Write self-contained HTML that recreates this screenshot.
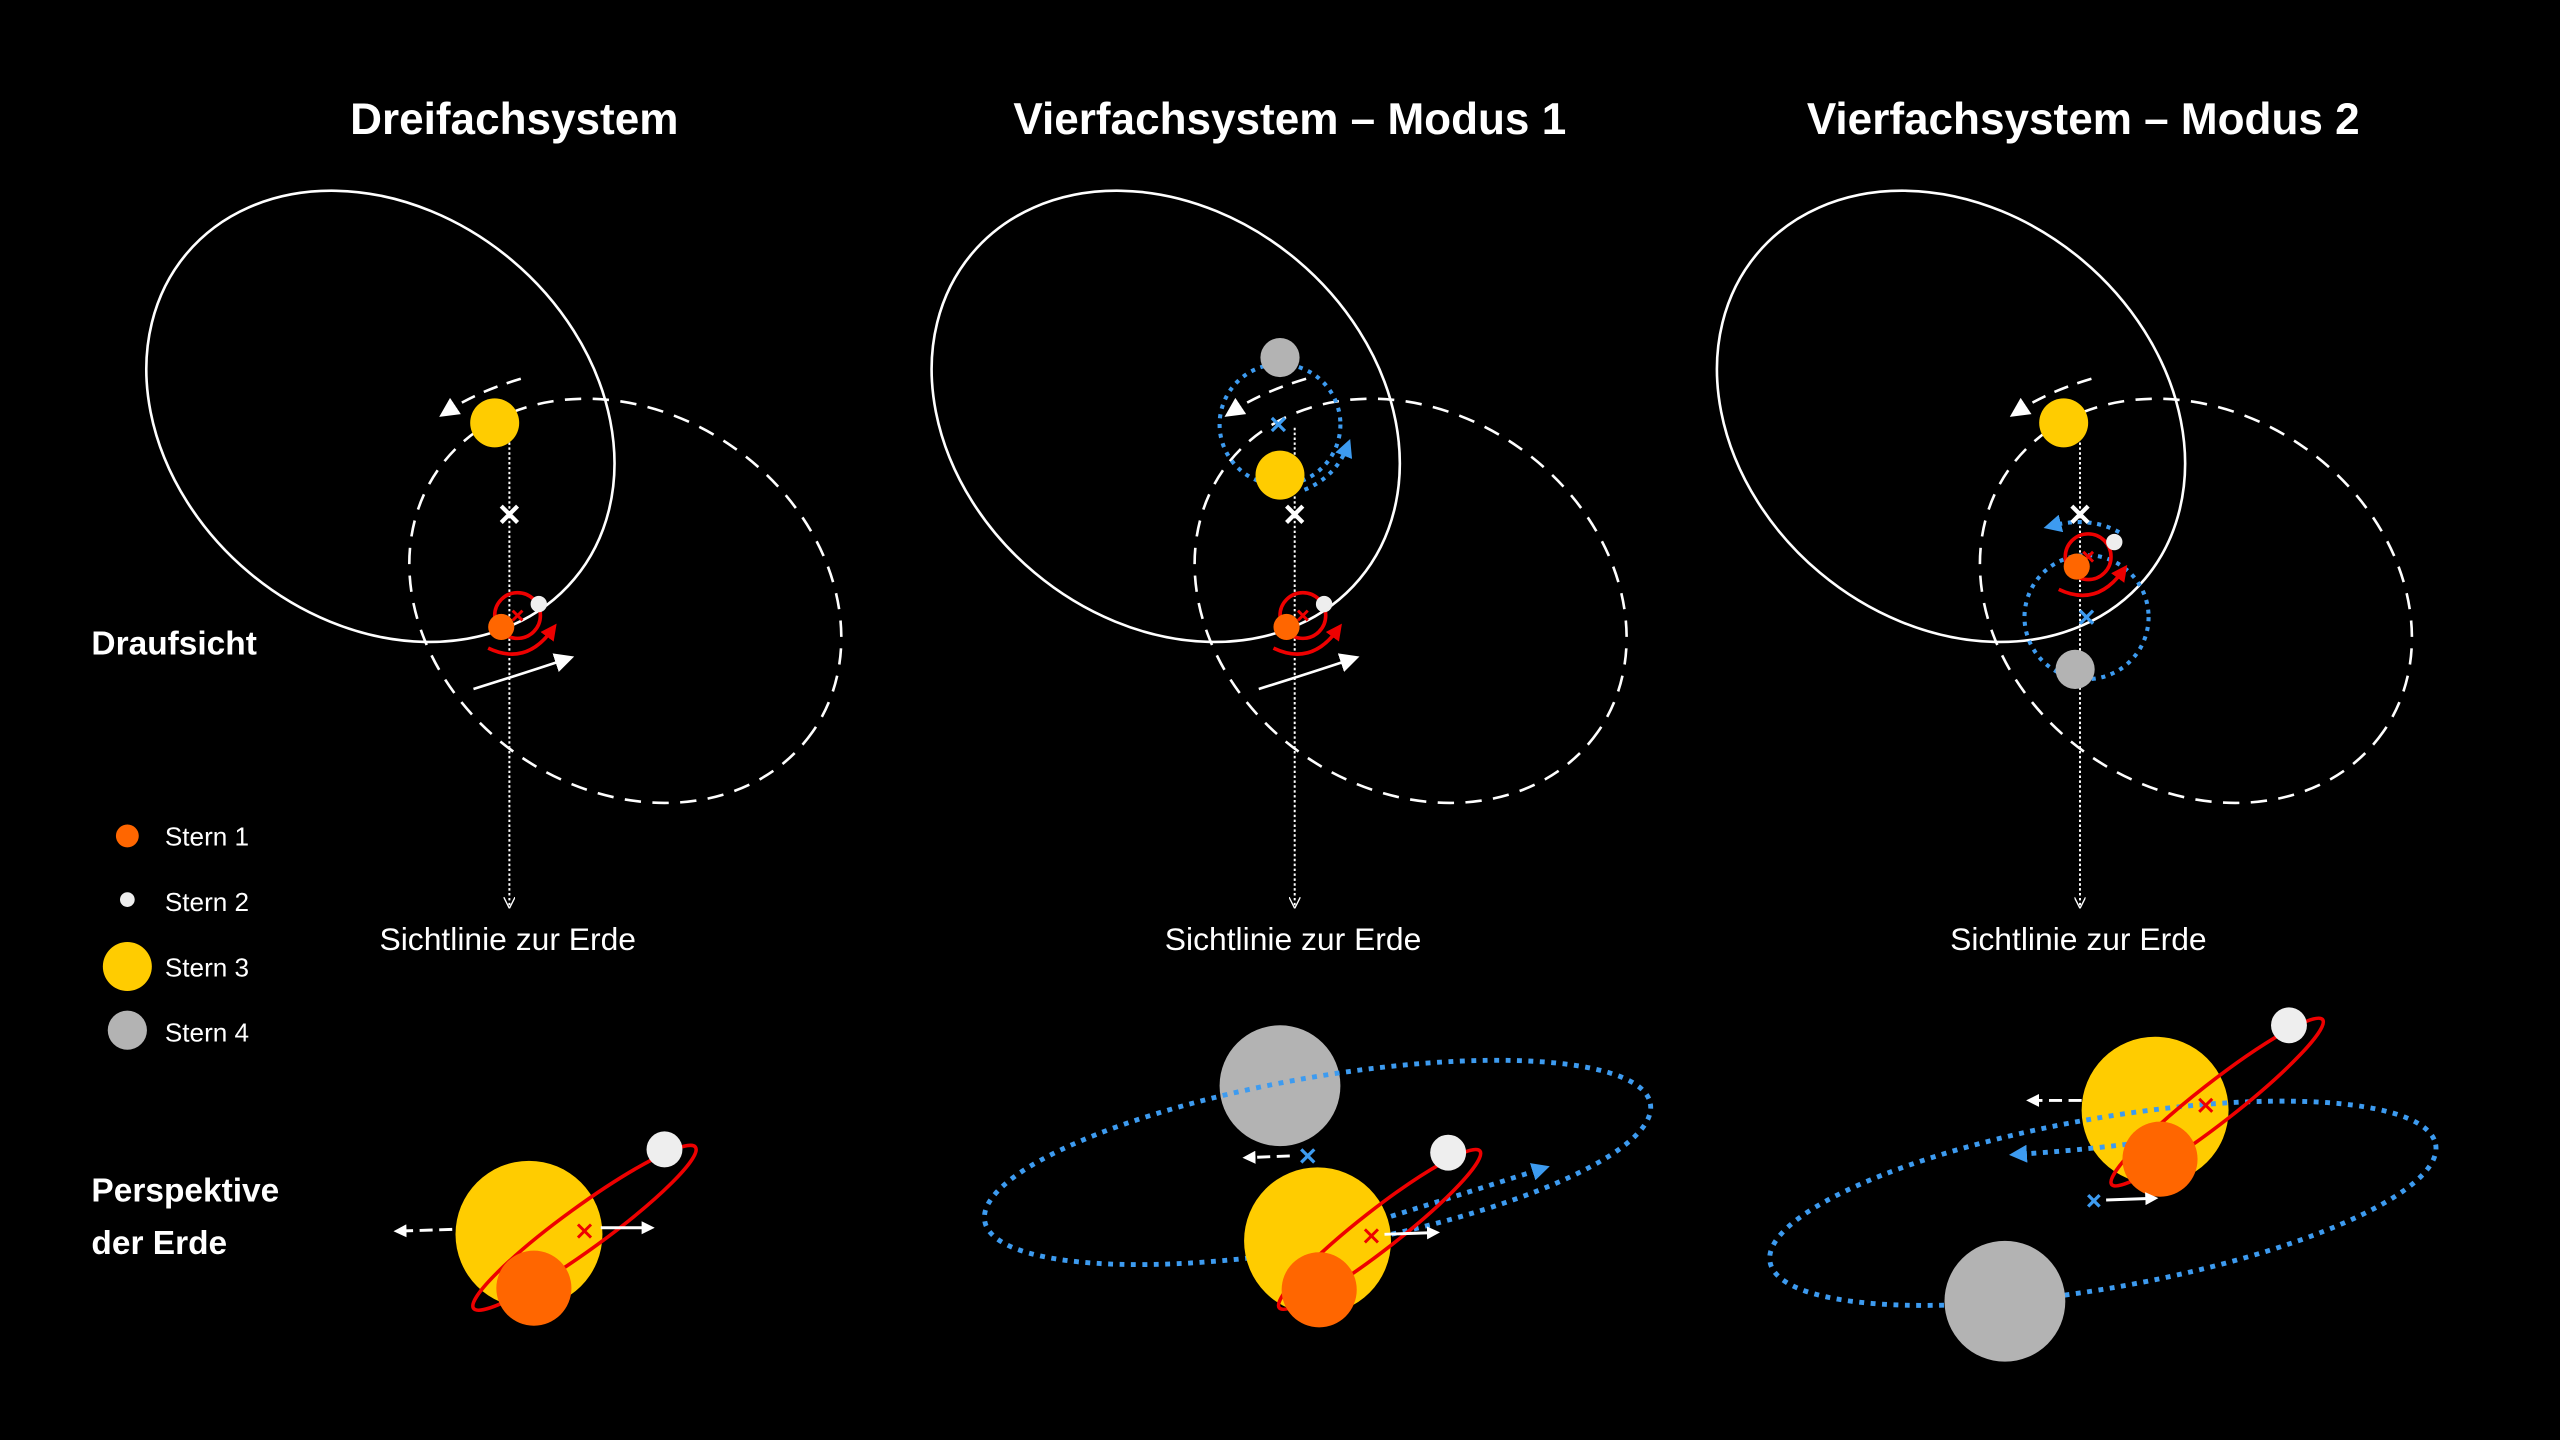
<!DOCTYPE html>
<html><head><meta charset="utf-8"><style>
html,body{margin:0;padding:0;background:#000;width:2560px;height:1440px;overflow:hidden}
svg{display:block}
text{font-family:"Liberation Sans",sans-serif;fill:#fff}
</style></head><body>
<svg width="2560" height="1440" viewBox="0 0 1568 882" xmlns="http://www.w3.org/2000/svg">
<defs>
<marker id="aw" viewBox="0 0 10 10" refX="5" refY="5" markerWidth="8" markerHeight="8" orient="auto" markerUnits="userSpaceOnUse"><path d="M0,0L10,5L0,10z" fill="#fff"/></marker>
<marker id="awb" viewBox="0 0 10 10" refX="5" refY="5" markerWidth="12" markerHeight="12" orient="auto" markerUnits="userSpaceOnUse"><path d="M0,0L10,5L0,10z" fill="#fff"/></marker>
<marker id="ar" viewBox="0 0 10 10" refX="5" refY="5" markerWidth="10" markerHeight="10" orient="auto" markerUnits="userSpaceOnUse"><path d="M0,0L10,5L0,10z" fill="#e00"/></marker>
<marker id="ab" viewBox="0 0 10 10" refX="5" refY="5" markerWidth="11" markerHeight="11" orient="auto" markerUnits="userSpaceOnUse"><path d="M0,0L10,5L0,10z" fill="#3d9bf0"/></marker>
<marker id="av" viewBox="0 0 10 10" refX="8" refY="5" markerWidth="7" markerHeight="7" orient="auto" markerUnits="userSpaceOnUse"><path d="M0,0L10,5L0,10" fill="none" stroke="#fff" stroke-width="1.2"/></marker>
<g id="top">
 <ellipse cx="233" cy="255" rx="155" ry="125" transform="rotate(40 233 255)" fill="none" stroke="#fff" stroke-width="1.6"/>
 <ellipse cx="383" cy="368" rx="140" ry="115" transform="rotate(35 383 368)" fill="none" stroke="#fff" stroke-width="1.6" stroke-dasharray="10,7"/>
 <line x1="312" y1="262" x2="312" y2="555" stroke="#fff" stroke-width="1.2" stroke-dasharray="1.5,1.5" marker-end="url(#av)"/>
 <path d="M319,232 Q292,240 274,252" fill="none" stroke="#fff" stroke-width="1.6" stroke-dasharray="9,6" marker-end="url(#awb)"/>
 <text x="311" y="582" font-size="19.5" text-anchor="middle">Sichtlinie zur Erde</text>
</g>
<path id="lowarr" d="M290,422 Q322,412 346,404" fill="none" stroke="#fff" stroke-width="1.6" marker-end="url(#awb)"/>
<g id="wx"><path d="M-5,-5L5,5M5,-5L-5,5" stroke="#fff" stroke-width="2.6"/></g>
<g id="bin">
 <circle cx="317" cy="377" r="14" fill="none" stroke="#e00" stroke-width="2.2"/>
 <path d="M299,397 Q322,408 338,386" fill="none" stroke="#e00" stroke-width="2.2" marker-end="url(#ar)"/>
 <path d="M314,374l6,6m0,-6l-6,6" stroke="#e00" stroke-width="1.8"/>
</g>
</defs>

<text x="315" y="82" font-size="27" font-weight="bold" text-anchor="middle">Dreifachsystem</text>
<text x="790" y="82" font-size="27" font-weight="bold" text-anchor="middle">Vierfachsystem – Modus 1</text>
<text x="1276" y="82" font-size="27" font-weight="bold" text-anchor="middle">Vierfachsystem – Modus 2</text>
<text x="56" y="401" font-size="20.5" font-weight="bold">Draufsicht</text>
<text x="56" y="736" font-size="20.5" font-weight="bold">Perspektive</text>
<text x="56" y="768" font-size="20.5" font-weight="bold">der Erde</text>

<circle cx="78" cy="512" r="7" fill="#f60"/><text x="101" y="518" font-size="16">Stern 1</text>
<circle cx="78" cy="551" r="4.5" fill="#eee"/><text x="101" y="558" font-size="16">Stern 2</text>
<circle cx="78" cy="592" r="15" fill="#fc0"/><text x="101" y="598" font-size="16">Stern 3</text>
<circle cx="78" cy="631" r="12" fill="#b3b3b3"/><text x="101" y="638" font-size="16">Stern 4</text>

<!-- panel 1 top -->
<use href="#top"/><use href="#lowarr"/>
<circle cx="303" cy="259" r="15" fill="#fc0"/>
<use href="#wx" x="312" y="315"/>
<use href="#bin"/>
<circle cx="307" cy="384" r="8" fill="#f60"/>
<circle cx="330" cy="370" r="5" fill="#eee"/>

<!-- panel 2 top -->
<g transform="translate(481,0)"><use href="#top"/><use href="#lowarr"/><use href="#bin"/></g>
<circle cx="784" cy="260" r="37" fill="none" stroke="#3d9bf0" stroke-width="2.5" stroke-dasharray="2.5,3.5"/>
<circle cx="784" cy="219" r="12" fill="#b3b3b3"/>
<circle cx="784" cy="291" r="15" fill="#fc0"/>
<path d="M799,300 Q818,292 825,274" fill="none" stroke="#3d9bf0" stroke-width="2.5" stroke-dasharray="2.5,3.5" marker-end="url(#ab)"/>
<path d="M779,256l8,8m0,-8l-8,8" stroke="#3d9bf0" stroke-width="2"/>
<use href="#wx" x="793" y="315"/>
<circle cx="788" cy="384" r="8" fill="#f60"/>
<circle cx="811" cy="370" r="5" fill="#eee"/>

<!-- panel 3 top -->
<g transform="translate(962,0)"><use href="#top"/></g>
<circle cx="1264" cy="259" r="15" fill="#fc0"/>
<circle cx="1278" cy="378" r="38" fill="none" stroke="#3d9bf0" stroke-width="2.5" stroke-dasharray="2.5,3.5"/>
<path d="M1298,326 Q1280,316 1257,322" fill="none" stroke="#3d9bf0" stroke-width="2.5" stroke-dasharray="2.5,3.5" marker-end="url(#ab)"/>
<use href="#wx" x="1274" y="315"/>
<g transform="translate(962,-36)"><use href="#bin"/></g>
<circle cx="1272" cy="347" r="8" fill="#f60"/>
<circle cx="1295" cy="332" r="5" fill="#eee"/>
<path d="M1274,374l8,8m0,-8l-8,8" stroke="#3d9bf0" stroke-width="2"/>
<circle cx="1271" cy="410" r="12" fill="#b3b3b3"/>

<!-- panel 1 bottom -->
<circle cx="324" cy="756" r="45" fill="#fc0"/>
<ellipse cx="358" cy="752" rx="84" ry="13" transform="rotate(-36 358 752)" fill="none" stroke="#e00" stroke-width="2.2"/>
<circle cx="327" cy="789" r="23" fill="#f60"/>
<circle cx="407" cy="704" r="11" fill="#eee"/>
<path d="M354,750l8,8m0,-8l-8,8" stroke="#e00" stroke-width="1.8"/>
<line x1="277" y1="753" x2="245" y2="754" stroke="#fff" stroke-width="1.8" stroke-dasharray="8,4" marker-end="url(#aw)"/>
<line x1="368" y1="752" x2="397" y2="752" stroke="#fff" stroke-width="1.8" marker-end="url(#aw)"/>

<!-- panel 2 bottom -->
<circle cx="784" cy="665" r="37" fill="#b3b3b3"/>
<ellipse cx="807" cy="712" rx="207" ry="52" transform="rotate(-10 807 712)" fill="none" stroke="#3d9bf0" stroke-width="3" stroke-dasharray="3,4"/>
<circle cx="807" cy="760" r="45" fill="#fc0"/>
<path d="M852,745 Q900,730 944,716" fill="none" stroke="#3d9bf0" stroke-width="3" stroke-dasharray="3,4" marker-end="url(#ab)"/>
<ellipse cx="845" cy="753" rx="78" ry="12" transform="rotate(-38 845 753)" fill="none" stroke="#e00" stroke-width="2.2"/>
<circle cx="808" cy="790" r="23" fill="#f60"/>
<circle cx="887" cy="706" r="11" fill="#eee"/>
<path d="M836,753l8,8m0,-8l-8,8" stroke="#e00" stroke-width="1.8"/>
<path d="M797,704l8,8m0,-8l-8,8" stroke="#3d9bf0" stroke-width="2"/>
<line x1="790" y1="708" x2="765" y2="709" stroke="#fff" stroke-width="1.8" stroke-dasharray="8,4" marker-end="url(#aw)"/>
<line x1="848" y1="756" x2="878" y2="755" stroke="#fff" stroke-width="1.8" marker-end="url(#aw)"/>

<!-- panel 3 bottom -->
<circle cx="1320" cy="680" r="45" fill="#fc0"/>
<ellipse cx="1288" cy="737" rx="207" ry="52" transform="rotate(-10 1288 737)" fill="none" stroke="#3d9bf0" stroke-width="3" stroke-dasharray="3,4"/>
<path d="M1310,700 Q1270,705 1236,707" fill="none" stroke="#3d9bf0" stroke-width="3" stroke-dasharray="3,4" marker-end="url(#ab)"/>
<ellipse cx="1358" cy="675" rx="82" ry="12" transform="rotate(-38 1358 675)" fill="none" stroke="#e00" stroke-width="2.2"/>
<circle cx="1323" cy="710" r="23" fill="#f60"/>
<circle cx="1402" cy="628" r="11" fill="#eee"/>
<path d="M1347,673l8,8m0,-8l-8,8" stroke="#e00" stroke-width="1.8"/>
<line x1="1275" y1="674" x2="1245" y2="674" stroke="#fff" stroke-width="1.8" stroke-dasharray="8,4" marker-end="url(#aw)"/>
<path d="M1279,732l7,7m0,-7l-7,7" stroke="#3d9bf0" stroke-width="2"/>
<line x1="1290" y1="735" x2="1318" y2="734" stroke="#fff" stroke-width="1.8" marker-end="url(#aw)"/>
<circle cx="1228" cy="797" r="37" fill="#b3b3b3"/>
</svg>
</body></html>
